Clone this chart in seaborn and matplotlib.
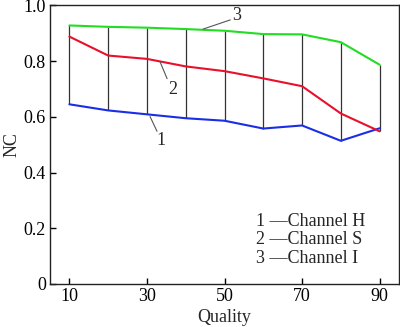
import matplotlib
matplotlib.use("Agg")
import matplotlib.pyplot as plt
import seaborn as sns
import pandas as pd

quality = [10, 20, 30, 40, 50, 60, 70, 80, 90]
nc_h = [0.645, 0.623, 0.609, 0.595, 0.586, 0.558, 0.569, 0.514, 0.559]
nc_s = [0.888, 0.820, 0.808, 0.781, 0.764, 0.738, 0.710, 0.612, 0.548]
nc_i = [0.928, 0.923, 0.920, 0.915, 0.909, 0.897, 0.896, 0.868, 0.787]
x_ticks = [10, 30, 50, 70, 90]
y_ticks = [0, 0.2, 0.4, 0.6, 0.8, 1.0]
y_tick_labels = ["0", "0.2", "0.4", "0.6", "0.8", "1.0"]
legend_lines = ["1 \u2014Channel H", "2 \u2014Channel S", "3 \u2014Channel I"]

sns.set_style("ticks")
plt.rcParams['font.family'] = ['Liberation Serif', 'DejaVu Serif']

fig = plt.figure(figsize=(4.0, 3.27), dpi=100)
ax = fig.add_axes([0.125, 0.1315, 0.8725, 0.852])

df = pd.DataFrame({"Quality": quality * 3,
                   "NC": nc_h + nc_s + nc_i,
                   "ch": ["H"] * 9 + ["S"] * 9 + ["I"] * 9})

# vertical connecting lines
lows = [min(a, b, c) for a, b, c in zip(nc_h, nc_s, nc_i)]
highs = [max(a, b, c) for a, b, c in zip(nc_h, nc_s, nc_i)]
ax.vlines(quality, lows, highs, colors="#333333", linewidth=0.9, zorder=1)

sns.lineplot(data=df, x="Quality", y="NC", hue="ch",
             palette={"H": "#1a2ee6", "S": "#e8102a", "I": "#22dd22"},
             linewidth=1.5, legend=False, ax=ax, zorder=2)

ax.set_xlim(5, 95)
ax.set_ylim(0, 1.0)
ax.set_xticks(x_ticks)
ax.set_xticklabels([str(t) for t in x_ticks])
ax.set_yticks(y_ticks)
ax.set_yticklabels(y_tick_labels)
ax.tick_params(direction="in", length=4, width=1, labelsize=13, pad=3, colors="black")
for s in ax.spines.values():
    s.set_visible(True)
    s.set_color("#222222")
    s.set_linewidth(1.0)
ax.set_xlabel("Quality", fontsize=13, labelpad=3)
ax.set_ylabel("NC", fontsize=13, labelpad=2)

# leader-line annotations
lc = "#555555"
ax.plot([30.8, 32.6], [0.601, 0.548], color=lc, lw=0.8)
ax.text(33.6, 0.514, "1", fontsize=13, ha="center", va="center")
ax.plot([33.4, 35.2], [0.797, 0.737], color=lc, lw=0.8)
ax.text(36.6, 0.697, "2", fontsize=13, ha="center", va="center")
ax.plot([44.5, 51.5], [0.915, 0.948], color=lc, lw=0.8)
ax.text(53.2, 0.963, "3", fontsize=13, ha="center", va="center")

for i, t in enumerate(legend_lines):
    ax.text(58.2, 0.224 - i * 0.0655, t, fontsize=13, ha="left", va="center")

fig.savefig("out.png", dpi=100)
